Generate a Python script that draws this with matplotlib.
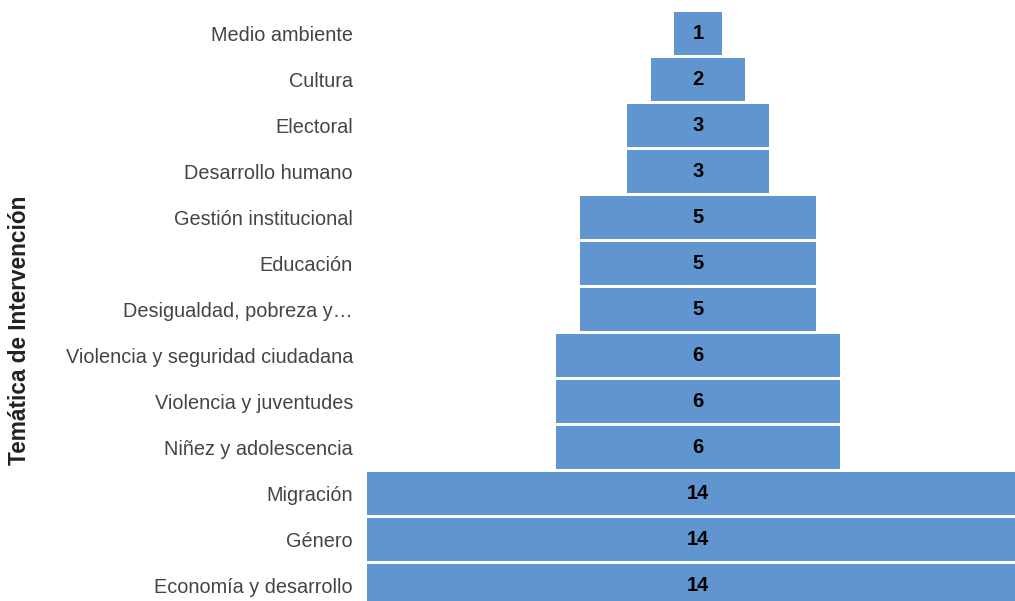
import matplotlib.pyplot as plt

plt.rcParams['font.family'] = ['Liberation Sans', 'DejaVu Sans']

# rows from top to bottom
temas = ['Medio ambiente', 'Cultura', 'Electoral', 'Desarrollo humano',
         'Gestión institucional', 'Educación', 'Desigualdad, pobreza y…',
         'Violencia y seguridad ciudadana', 'Violencia y juventudes',
         'Niñez y adolescencia', 'Migración', 'Género', 'Economía y desarrollo']
valores = [1, 2, 3, 3, 5, 5, 5, 6, 6, 6, 14, 14, 14]

W, H = 1015, 601
fig = plt.figure(figsize=(W / 100, H / 100), dpi=100)

# axes placed in pixels: center at x=698, ~47.3 px per unit, 46 px per row
scale = 47.3
left_px = 698 - 7 * scale
top_px = 10.5
bottom_px = top_px + 46 * 13
ax = fig.add_axes([left_px / W, 1 - bottom_px / H, 14 * scale / W, (bottom_px - top_px) / H])

pos = list(range(len(temas)))
lefts = [-v / 2 for v in valores]
ax.barh(pos, valores, left=lefts, height=43 / 46, color='#6195cf')

for p, v in zip(pos, valores):
    ax.text(0, p, str(v), ha='center', va='center', fontsize=14.5,
            fontweight='bold', color='black')

ax.set_xlim(-7, 7)
ax.set_ylim(len(temas) - 0.5, -0.5)
ax.set_yticks(pos)
ax.set_yticklabels(temas, fontsize=14.3, color='#444444')
ax.tick_params(axis='y', length=0, pad=10)
ax.set_xticks([])
for s in ax.spines.values():
    s.set_visible(False)

fig.text(20 / W, 1 - 330 / H, 'Temática de Intervención', rotation=90,
         ha='center', va='center', fontsize=16.3, fontweight='bold', color='#222222')

fig.savefig('out.png', dpi=100)
